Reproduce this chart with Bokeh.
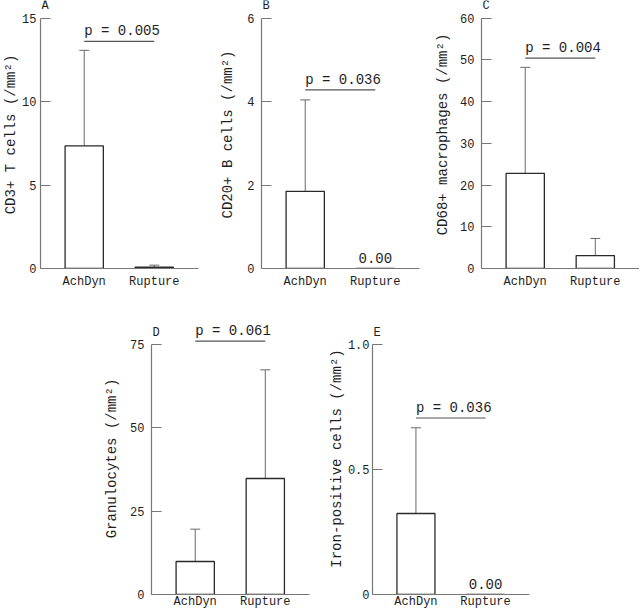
from bokeh.plotting import figure
from bokeh.models import Range1d, FixedTicker, Label, Whisker, TeeHead, ColumnDataSource, Spacer
from bokeh.layouts import row, column
from bokeh.embed import file_html
from bokeh.resources import INLINE

# ---- data ----
groups = ["AchDyn", "Rupture"]

cd3_mean = [7.35, 0.08]
cd3_sd = [5.72, 0.12]
cd20_mean = [1.85, 0.0]
cd20_sd = [2.19, 0.0]
cd68_mean = [22.8, 3.1]
cd68_sd = [25.4, 4.1]
gran_mean = [9.9, 34.8]
gran_sd = [9.7, 32.6]
iron_mean = [0.324, 0.0]
iron_sd = [0.343, 0.0]

p_values = ["0.005", "0.036", "0.004", "0.061", "0.036"]
panel_letters = ["A", "B", "C", "D", "E"]
y_labels = ["CD3+ T cells (/mm²)", "CD20+ B cells (/mm²)",
            "CD68+ macrophages (/mm²)", "Granulocytes (/mm²)",
            "Iron-positive cells (/mm²)"]
y_ticks = [[0, 5, 10, 15], [0, 2, 4, 6], [0, 10, 20, 30, 40, 50, 60],
           [0, 25, 50, 75], [0, 0.5, 1.0]]
y_tick_labels = [["0", "5", "10", "15"], ["0", "2", "4", "6"],
                 ["0", "10", "20", "30", "40", "50", "60"],
                 ["0", "25", "50", "75"], ["0", "0.5", "1.0"]]
p_line_y = [13.6, 4.28, 50.4, 76.0, 0.706]

FONT = "Liberation Mono"
TXT = "#1e1e1e"
AX = "#777777"
X0, X1 = 0.376, 2.631


def panel(mean, sd, ticks, tick_labels, ylabel, letter, pval, pline,
          width, left, right, height, bottom, frame_h, axis_px,
          tick_standoff, label_standoff, x_standoff):
    top = ticks[-1]
    p = figure(width=width, height=height,
               x_range=Range1d(X0, X1), y_range=Range1d(0, top * frame_h / axis_px),
               output_backend="svg", toolbar_location=None,
               min_border_left=left, min_border_right=right,
               min_border_top=0, min_border_bottom=bottom)
    p.outline_line_color = None
    p.grid.visible = False
    p.background_fill_color = "white"
    p.border_fill_color = "white"

    xs = [1, 2]
    src = ColumnDataSource(dict(x=xs, top=mean))
    p.vbar(x="x", top="top", bottom=0, width=0.546, source=src,
           fill_color="white", line_color="#2a2a2a", line_width=1.3)

    ex = [x for x, s in zip(xs, sd) if s > 0]
    el = [m for m, s in zip(mean, sd) if s > 0]
    eu = [m + s for m, s in zip(mean, sd) if s > 0]
    esrc = ColumnDataSource(dict(x=ex, lo=el, up=eu))
    w = Whisker(source=esrc, base="x", lower="lo", upper="up", dimension="height",
                line_color="#6a6a6a", line_width=1,
                upper_head=TeeHead(size=10, line_color="#6a6a6a", line_width=1),
                lower_head=None)
    p.add_layout(w)

    for x, m in zip(xs, mean):
        if m == 0:
            p.add_layout(Label(x=x, y=0, text=f"{m:.2f}", text_align="center",
                               text_baseline="bottom", y_offset=6,
                               text_font=FONT, text_font_size="14px", text_color=TXT))

    # significance bracket
    p.segment(x0=[xs[0]], y0=[pline], x1=[xs[1]], y1=[pline],
              line_color="#555555", line_width=1.2)
    p.add_layout(Label(x=xs[0], y=pline, text=f"p = {pval}", text_baseline="bottom",
                       y_offset=2, text_font=FONT, text_font_size="14px", text_color=TXT))
    # panel letter
    p.add_layout(Label(x=X0, y=top, text=letter, text_baseline="bottom",
                       x_offset=1, y_offset=5, text_font=FONT,
                       text_font_size="12px", text_color=TXT))

    ya = p.yaxis[0]
    ya.ticker = FixedTicker(ticks=ticks)
    ya.bounds = (0, top)
    ya.major_label_overrides = {t: s for t, s in zip(ticks, tick_labels)}
    ya.major_tick_in = 10
    ya.major_tick_out = 0
    ya.minor_tick_line_color = None
    ya.axis_line_color = AX
    ya.major_tick_line_color = AX
    ya.axis_line_width = 1.2
    ya.major_label_standoff = tick_standoff
    ya.major_label_text_font = FONT
    ya.major_label_text_font_size = "12px"
    ya.major_label_text_color = TXT
    ya.axis_label = ylabel
    ya.axis_label_text_font = FONT
    ya.axis_label_text_font_size = "14px"
    ya.axis_label_text_font_style = "normal"
    ya.axis_label_text_color = TXT
    ya.axis_label_standoff = label_standoff

    xa = p.xaxis[0]
    xa.ticker = FixedTicker(ticks=xs)
    xa.major_label_overrides = {1: groups[0], 2: groups[1]}
    xa.major_tick_in = 0
    xa.major_tick_out = 0
    xa.minor_tick_line_color = None
    xa.axis_line_color = AX
    xa.axis_line_width = 1.2
    xa.major_label_standoff = x_standoff
    xa.major_label_text_font = FONT
    xa.major_label_text_font_size = "12px"
    xa.major_label_text_color = TXT
    return p


TOP_H, TOP_B, TOP_F, TOP_A = 322, 54, 268, 250.4
BOT_H, BOT_B, BOT_F, BOT_A = 291, 19, 272, 250.0

pA = panel(cd3_mean, cd3_sd, y_ticks[0], y_tick_labels[0], y_labels[0], panel_letters[0],
           p_values[0], p_line_y[0], 217, 40, 19, TOP_H, TOP_B, TOP_F, TOP_A, 4, 0, 6)
pB = panel(cd20_mean, cd20_sd, y_ticks[1], y_tick_labels[1], y_labels[1], panel_letters[1],
           p_values[1], p_line_y[1], 215, 44, 13, TOP_H, TOP_B, TOP_F, TOP_A, 7, 8, 6)
pC = panel(cd68_mean, cd68_sd, y_ticks[2], y_tick_labels[2], y_labels[2], panel_letters[2],
           p_values[2], p_line_y[2], 207, 49, 0, TOP_H, TOP_B, TOP_F, TOP_A, 7, 6, 6)
pD = panel(gran_mean, gran_sd, y_ticks[3], y_tick_labels[3], y_labels[3], panel_letters[3],
           p_values[3], p_line_y[3], 224, 50, 16, BOT_H, BOT_B, BOT_F, BOT_A, 7, 7, 0)
pE = panel(iron_mean, iron_sd, y_ticks[4], y_tick_labels[4], y_labels[4], panel_letters[4],
           p_values[4], p_line_y[4], 208, 46, 4, BOT_H, BOT_B, BOT_F, BOT_A, 3, 0, 0)

layout = column(row(pA, pB, pC), row(Spacer(width=101, height=BOT_H), pD, pE))

open("out.html", "w").write(file_html(layout, INLINE))
